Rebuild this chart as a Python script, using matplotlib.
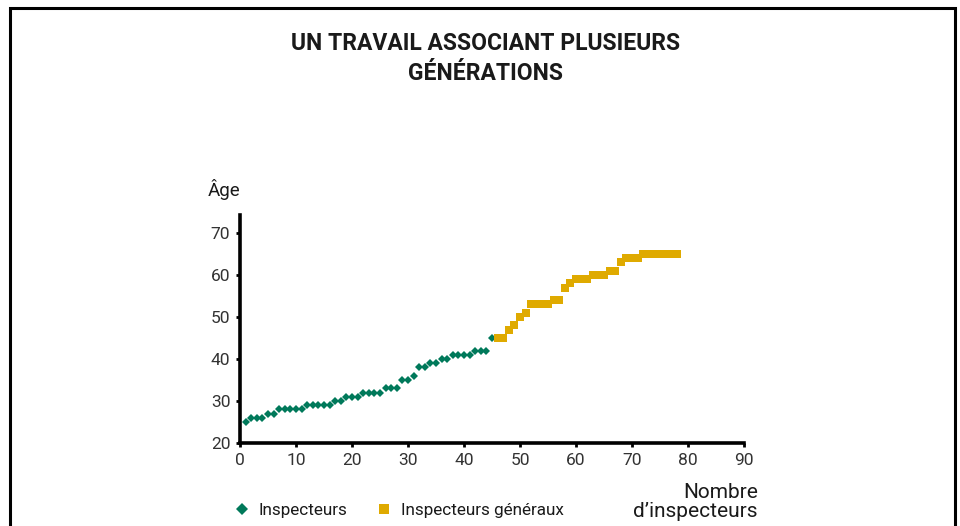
import matplotlib
matplotlib.use("Agg")
import matplotlib.pyplot as plt
from matplotlib.patches import Rectangle
from matplotlib.lines import Line2D

# Data
insp_x = list(range(1, 46))
insp_age = [25, 26, 26, 26, 27, 27, 28, 28, 28, 28, 28, 29, 29, 29, 29, 29,
            30, 30, 31, 31, 31, 32, 32, 32, 32, 33, 33, 33, 35, 35, 36, 38,
            38, 39, 39, 40, 40, 41, 41, 41, 41, 42, 42, 42, 45]
gen_x = list(range(46, 79))
gen_age = [45, 45, 47, 48, 50, 51, 53, 53, 53, 53, 54, 54, 57, 58, 59, 59, 59,
           60, 60, 60, 61, 61, 63, 64, 64, 64, 65, 65, 65, 65, 65, 65, 65]
x_ticks = [0, 10, 20, 30, 40, 50, 60, 70, 80, 90]
y_ticks = [20, 30, 40, 50, 60, 70]
series_names = ["Inspecteurs", "Inspecteurs généraux"]
title = "UN TRAVAIL ASSOCIANT PLUSIEURS\nGÉNÉRATIONS"

GREEN = "#00795a"
YELLOW = "#dfaa00"
TXT = "#333333"

plt.rcParams['font.family'] = ['Roboto', 'DejaVu Sans']

fig = plt.figure(figsize=(9.6, 5.26), dpi=100)
ax = fig.add_axes([240/960, 1-443/526, (744-240)/960, (443-215)/526])

ax.plot(insp_x, insp_age, linestyle='none', marker='D', ms=4.2, mew=0,
        color=GREEN, zorder=3)
ax.plot(gen_x, gen_age, linestyle='none', marker='s', ms=6.4, mew=0,
        color=YELLOW, zorder=4)

ax.set_xlim(0, 90)
ax.set_ylim(20, 74.3)
ax.set_xticks(x_ticks)
ax.set_yticks(y_ticks)
for s in ['top', 'right']:
    ax.spines[s].set_visible(False)
for s in ['left', 'bottom']:
    ax.spines[s].set_linewidth(2.6)
    ax.spines[s].set_color('black')
ax.tick_params(axis='both', direction='out', length=3, width=2, color='black',
               labelsize=12.5, labelcolor=TXT, pad=4)

# Title
fig.text(0.5057, 1-32/526, title, ha='center', va='top', fontsize=16.5,
         fontweight='bold', linespacing=1.4, color='#1a1a1a')

# Axis labels
fig.text(208/960, 1-189/526, "Âge", ha='left', va='center', fontsize=13.5,
         color='#1a1a1a')
fig.text(758/960, 1-483/526, "Nombre\nd\u2019inspecteurs", ha='right', va='top',
         fontsize=15, color='#1a1a1a', linespacing=1.0)

# Legend
handles = [Line2D([], [], linestyle='none', marker='D', ms=6, mew=0, color=GREEN),
           Line2D([], [], linestyle='none', marker='s', ms=6.5, mew=0, color=YELLOW)]
fig.legend(handles, series_names, loc='center left',
           bbox_to_anchor=(218/960, 1-510/526), ncol=2, frameon=False,
           fontsize=12.3, handlelength=1.0, handletextpad=0.5,
           columnspacing=1.6, labelcolor='#1a1a1a')

# Frame
fig.patches.append(Rectangle((10/960, -0.1), (955-10)/960, 1-8/526+0.1,
                             transform=fig.transFigure, fill=False,
                             edgecolor='black', linewidth=2.2))

fig.savefig("out.png", dpi=100)
